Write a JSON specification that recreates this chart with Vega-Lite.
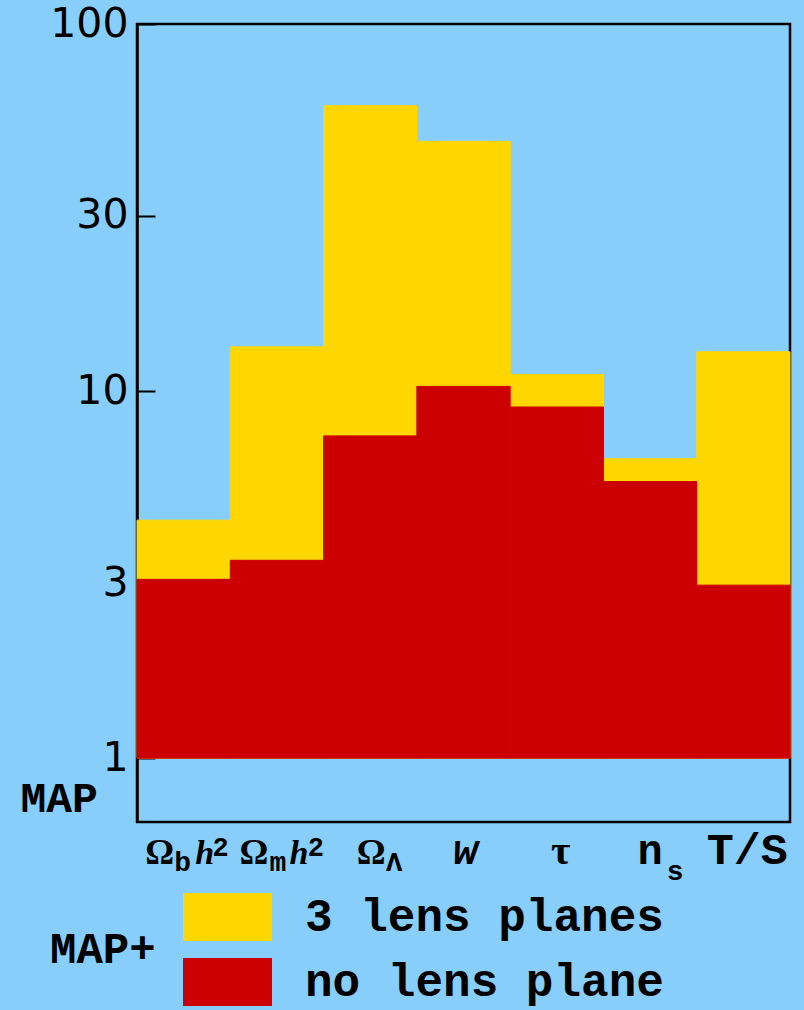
{
  "$schema": "https://vega.github.io/schema/vega-lite/v6.json",
  "width": 653,
  "height": 798,
  "autosize": {"type": "none"},
  "padding": {"left": 137, "top": 24, "right": 14, "bottom": 188},
  "background": "#87CEFA",
  "config": {"view": {"stroke": "black", "strokeWidth": 2.5}},
  "data": {"values": [
    {"param": "Ωbh²", "series": "3 lens planes", "value": 4.45},
    {"param": "Ωmh²", "series": "3 lens planes", "value": 13.2},
    {"param": "ΩΛ", "series": "3 lens planes", "value": 59.9},
    {"param": "w", "series": "3 lens planes", "value": 47.9},
    {"param": "τ", "series": "3 lens planes", "value": 11.1},
    {"param": "ns", "series": "3 lens planes", "value": 6.54},
    {"param": "T/S", "series": "3 lens planes", "value": 12.8},
    {"param": "Ωbh²", "series": "no lens plane", "value": 3.07},
    {"param": "Ωmh²", "series": "no lens plane", "value": 3.46},
    {"param": "ΩΛ", "series": "no lens plane", "value": 7.55},
    {"param": "w", "series": "no lens plane", "value": 10.3},
    {"param": "τ", "series": "no lens plane", "value": 9.05},
    {"param": "ns", "series": "no lens plane", "value": 5.67},
    {"param": "T/S", "series": "no lens plane", "value": 2.96}
  ]},
  "encoding": {
    "y": {
      "field": "value", "type": "quantitative",
      "scale": {"type": "log", "domain": [0.67, 100], "nice": false},
      "axis": {
        "values": [1, 3, 10, 30, 100], "grid": false,
        "format": "d",
        "labelFont": "DejaVu Sans", "labelFontSize": 41, "labelColor": "black",
        "tickSize": -18, "tickWidth": 2, "tickColor": "black",
        "domainColor": "black", "domainWidth": 2.5,
        "labelPadding": 27,
        "title": "MAP", "titleAngle": 0, "titleFont": "Liberation Mono",
        "titleFontWeight": "bold", "titleFontSize": 43, "titleColor": "black",
        "titleAlign": "left", "titleBaseline": "middle", "titleX": -117, "titleY": 774
      }
    },
    "y2": {"datum": 1}
  },
  "layer": [
    {
      "mark": {"type": "bar", "strokeWidth": 1},
      "encoding": {
        "x": {
          "field": "param", "type": "nominal", "sort": null,
          "scale": {"paddingInner": 0, "paddingOuter": 0},
          "axis": {
            "orient": "bottom",
            "title": null, "labelAngle": 0, "ticks": false, "domain": false,
            "labelExpr": "datum.value == 'Ωbh²' || datum.value == 'Ωmh²' || datum.value == 'ΩΛ' ? 'Ω' : datum.value == 'ns' ? 'n' : datum.value",
            "labelFont": {"condition": {"test": "datum.value == 'ns' || datum.value == 'T/S' || datum.value == 'w'", "value": "Liberation Mono"}, "value": "Liberation Serif"},
            "labelFontWeight": "bold",
            "labelFontSize": {"condition": [
              {"test": "datum.value == 'Ωbh²' || datum.value == 'Ωmh²' || datum.value == 'ΩΛ'", "value": 36},
              {"test": "datum.value == 'T/S'", "value": 45}
            ], "value": 42},
            "labelColor": "black", "labelBaseline": "alphabetic", "labelPadding": 41,
            "labelOffset": {"condition": [
              {"test": "datum.value == 'Ωbh²'", "value": -24},
              {"test": "datum.value == 'Ωmh²'", "value": -23},
              {"test": "datum.value == 'ΩΛ'", "value": 1},
              {"test": "datum.value == 'w'", "value": 2},
              {"test": "datum.value == 'τ'", "value": 4},
              {"test": "datum.value == 'T/S'", "value": 4}
            ], "value": 0},
            "labelFontStyle": {"condition": {"test": "datum.value == 'w'", "value": "italic"}, "value": "normal"}
          }
        },
        "color": {
          "field": "series", "type": "nominal",
          "scale": {"domain": ["3 lens planes", "no lens plane"], "range": ["#FFD700", "#CC0000"]},
          "legend": {
            "orient": "none", "legendX": -87, "legendY": 869,
            "title": "MAP+", "titleOrient": "left", "titleAnchor": "middle",
            "titleBaseline": "middle", "titleAngle": 0,
            "titleFont": "Liberation Mono", "titleFontWeight": "bold", "titleFontSize": 44,
            "titleColor": "black", "titlePadding": 27,
            "labelFont": "Liberation Mono", "labelFontWeight": "bold", "labelFontSize": 46,
            "labelColor": "black", "labelOffset": 33, "labelLimit": 600,
            "symbolType": "M-1,-0.54H1V0.54H-1Z", "symbolSize": 7921,
            "symbolStrokeWidth": 0, "symbolOpacity": 1,
            "clipHeight": 48, "rowPadding": 17
          }
        },
        "stroke": {
          "field": "series", "type": "nominal",
          "scale": {"domain": ["3 lens planes", "no lens plane"], "range": ["#FFD700", "#CC0000"]},
          "legend": null
        }
      }
    },
    {
      "mark": {"type": "bar", "opacity": 0},
      "encoding": {
        "x": {
          "field": "param", "type": "nominal", "sort": null,
          "axis": {
            "orient": "bottom",
            "title": null, "labelAngle": 0, "ticks": false, "domain": false,
            "labelExpr": "datum.value == 'Ωbh²' ? 'b' : datum.value == 'Ωmh²' ? 'm' : datum.value == 'ΩΛ' ? 'Λ' : datum.value == 'ns' ? 's' : ''",
            "labelFont": "Liberation Mono", "labelFontWeight": "bold",
            "labelFontSize": 28, "labelColor": "black", "labelBaseline": "alphabetic",
            "labelPadding": {"condition": {"test": "datum.value == 'ns'", "value": 57}, "value": 48},
            "labelOffset": {"condition": [
              {"test": "datum.value == 'Ωbh²'", "value": -1},
              {"test": "datum.value == 'Ωmh²'", "value": 1},
              {"test": "datum.value == 'ΩΛ'", "value": 24},
              {"test": "datum.value == 'ns'", "value": 25}
            ], "value": 0}
          }
        }
      }
    },
    {
      "mark": {"type": "bar", "opacity": 0},
      "encoding": {
        "x": {
          "field": "param", "type": "nominal", "sort": null,
          "axis": {
            "orient": "bottom",
            "title": null, "labelAngle": 0, "ticks": false, "domain": false,
            "labelExpr": "datum.value == 'Ωbh²' || datum.value == 'Ωmh²' ? 'h' : ''",
            "labelFont": "Liberation Serif", "labelFontWeight": "bold", "labelFontStyle": "italic",
            "labelFontSize": 34, "labelColor": "black", "labelBaseline": "alphabetic",
            "labelPadding": 41,
            "labelOffset": {"condition": [
              {"test": "datum.value == 'Ωbh²'", "value": 21},
              {"test": "datum.value == 'Ωmh²'", "value": 22}
            ], "value": 0}
          }
        }
      }
    },
    {
      "mark": {"type": "bar", "opacity": 0},
      "encoding": {
        "x": {
          "field": "param", "type": "nominal", "sort": null,
          "axis": {
            "orient": "bottom",
            "title": null, "labelAngle": 0, "ticks": false, "domain": false,
            "labelExpr": "datum.value == 'Ωbh²' || datum.value == 'Ωmh²' ? '2' : ''",
            "labelFont": "Liberation Mono", "labelFontWeight": "bold",
            "labelFontSize": 27, "labelColor": "black", "labelBaseline": "alphabetic",
            "labelPadding": 33,
            "labelOffset": {"condition": [
              {"test": "datum.value == 'Ωbh²'", "value": 37},
              {"test": "datum.value == 'Ωmh²'", "value": 39}
            ], "value": 0}
          }
        }
      }
    }
  ],
  "resolve": {"axis": {"x": "independent"}}
}
